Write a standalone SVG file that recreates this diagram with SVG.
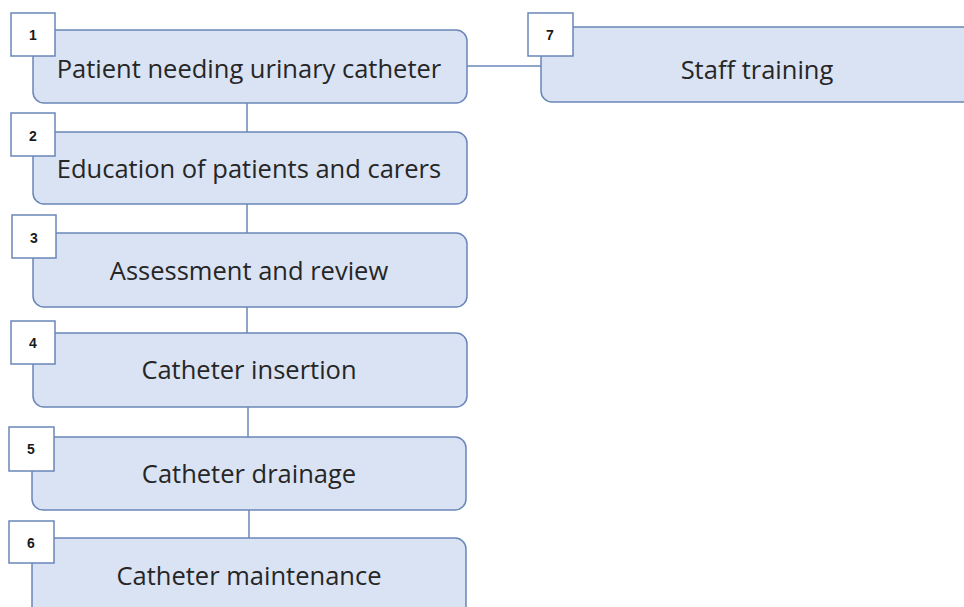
<svg xmlns="http://www.w3.org/2000/svg" width="964" height="607" viewBox="0 0 964 607">
<style>
.box{fill:#dae3f3;stroke:#6a86b8;stroke-width:1.5}
.tag{fill:#ffffff;stroke:#6a86b8;stroke-width:1.5}
.lbl{font-family:"Open Sans","Liberation Sans",sans-serif;font-size:25.5px;fill:#262626;text-anchor:middle}
.num{font-family:"Liberation Sans",sans-serif;font-size:14px;font-weight:bold;fill:#1a1a1a;text-anchor:middle}
.conn{stroke:#6a86b8;stroke-width:1.5;fill:none}
</style>
<rect width="964" height="607" fill="#ffffff"/>
<g id="connectors">
<line class="conn" x1="247" y1="103" x2="247" y2="132"/>
<line class="conn" x1="247" y1="204" x2="247" y2="233"/>
<line class="conn" x1="247" y1="307" x2="247" y2="333"/>
<line class="conn" x1="248" y1="407" x2="248" y2="437"/>
<line class="conn" x1="249" y1="510" x2="249" y2="538"/>
<line class="conn" x1="467" y1="66" x2="541" y2="66"/>
</g>
<g id="node1">
<rect class="box" x="33" y="30" width="434" height="73" rx="11"/>
<rect class="tag" x="11" y="13" width="44" height="43"/>
<text class="num" x="33" y="40">1</text>
<text class="lbl" x="249" y="78">Patient needing urinary catheter</text>
</g>
<g id="node2">
<rect class="box" x="33" y="132" width="434" height="72" rx="11"/>
<rect class="tag" x="11" y="113" width="44" height="43"/>
<text class="num" x="33" y="141">2</text>
<text class="lbl" x="249" y="178">Education of patients and carers</text>
</g>
<g id="node3">
<rect class="box" x="33" y="233" width="434" height="74" rx="11"/>
<rect class="tag" x="12" y="215" width="44" height="43"/>
<text class="num" x="34" y="243">3</text>
<text class="lbl" x="249" y="280">Assessment and review</text>
</g>
<g id="node4">
<rect class="box" x="33" y="333" width="434" height="74" rx="11"/>
<rect class="tag" x="11" y="321" width="44" height="43"/>
<text class="num" x="33" y="348">4</text>
<text class="lbl" x="249" y="379">Catheter insertion</text>
</g>
<g id="node5">
<rect class="box" x="32" y="437" width="434" height="73" rx="11"/>
<rect class="tag" x="9" y="427" width="45" height="44"/>
<text class="num" x="31" y="454">5</text>
<text class="lbl" x="249" y="483">Catheter drainage</text>
</g>
<g id="node6">
<rect class="box" x="32" y="538" width="434" height="80" rx="11"/>
<rect class="tag" x="9" y="521" width="45" height="42"/>
<text class="num" x="31" y="548">6</text>
<text class="lbl" x="249" y="585">Catheter maintenance</text>
</g>
<g id="node7">
<rect class="box" x="541" y="27" width="450" height="75" rx="11"/>
<rect class="tag" x="528" y="13" width="45" height="43"/>
<text class="num" x="550" y="40">7</text>
<text class="lbl" x="757" y="79">Staff training</text>
</g>
</svg>
